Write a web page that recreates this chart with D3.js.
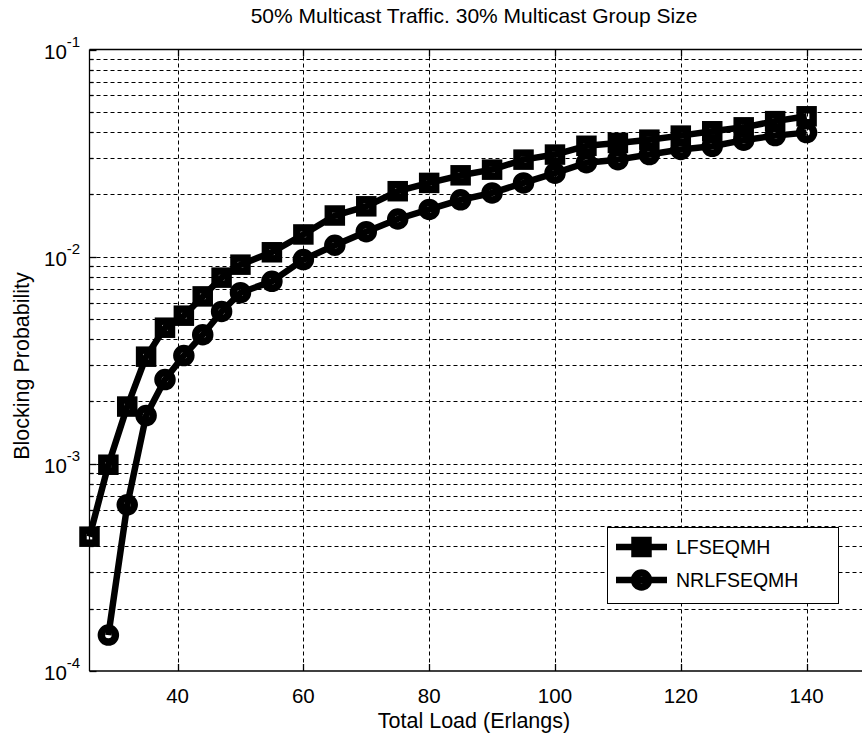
<!DOCTYPE html>
<html>
<head>
<meta charset="utf-8">
<script src="https://cdn.jsdelivr.net/npm/d3@7"></script>
<style>
  html, body { margin: 0; padding: 0; background: #fff; }
  svg { display: block; }
  text { font-family: "Liberation Sans", Arial, sans-serif; fill: #000; }
</style>
</head>
<body>
<svg id="chart" width="862" height="736"></svg>
<script>
// Offered load (Erlangs)
const loads = [26, 29, 32, 35, 38, 41, 44, 47, 50, 55, 60, 65, 70, 75, 80, 85, 90,
               95, 100, 105, 110, 115, 120, 125, 130, 135, 140];
// Blocking probability, LFSEQMH
const lfseqmh = [4.45e-4, 9.9e-4, 1.89e-3, 3.29e-3, 4.54e-3, 5.19e-3, 6.43e-3, 7.92e-3, 9.15e-3,
                 1.05e-2, 1.28e-2, 1.58e-2, 1.75e-2, 2.07e-2, 2.27e-2, 2.47e-2, 2.63e-2,
                 2.94e-2, 3.11e-2, 3.43e-2, 3.54e-2, 3.67e-2, 3.84e-2, 4.03e-2, 4.21e-2, 4.51e-2, 4.76e-2];
// Blocking probability, NRLFSEQMH (no value at the lowest load)
const nrlfseqmh = [null, 1.49e-4, 6.34e-4, 1.71e-3, 2.55e-3, 3.33e-3, 4.2e-3, 5.44e-3, 6.70e-3,
                   7.60e-3, 9.68e-3, 1.135e-2, 1.32e-2, 1.52e-2, 1.69e-2, 1.88e-2, 2.03e-2,
                   2.27e-2, 2.53e-2, 2.84e-2, 2.94e-2, 3.11e-2, 3.29e-2, 3.41e-2, 3.65e-2, 3.84e-2, 3.97e-2];
const seriesNames = ["LFSEQMH", "NRLFSEQMH"];
const xTicks = [40, 60, 80, 100, 120, 140];
const yDecades = [-4, -3, -2, -1];

const chartTitle = "50% Multicast Traffic. 30% Multicast Group Size";
const xLabel = "Total Load (Erlangs)";
const yLabel = "Blocking Probability";

(function () {
  const svg = d3.select("#chart");
  const pLeft = 89.5, pRight = 869.5, pTop = 49.5, pBottom = 671;

  const x = d3.scaleLinear().domain([26, 150]).range([pLeft, pRight]);
  const y = d3.scaleLog().domain([1e-4, 1e-1]).range([pBottom, pTop]);

  // Grid
  const grid = svg.append("g").attr("stroke", "#000").attr("stroke-width", 1)
    .attr("stroke-dasharray", "4,3").attr("fill", "none");
  xTicks.forEach(t => {
    const xx = Math.round(x(t)) + 0.5;
    grid.append("line").attr("x1", xx).attr("x2", xx).attr("y1", pTop).attr("y2", pBottom);
  });
  const yGridVals = [];
  yDecades.slice(0, 3).forEach(p => {
    for (let m = 1; m <= 9; m++) yGridVals.push(m * Math.pow(10, p));
  });
  yGridVals.forEach(v => {
    if (v <= 1e-4) return;
    const yy = Math.round(y(v)) + 0.5;
    grid.append("line").attr("x1", pLeft).attr("x2", 862).attr("y1", yy).attr("y2", yy);
  });

  // Axes box and inward ticks
  const ax = svg.append("g").attr("stroke", "#000").attr("stroke-width", 1.3).attr("fill", "none");
  ax.append("line").attr("x1", pLeft).attr("x2", pLeft).attr("y1", pTop).attr("y2", pBottom);
  ax.append("line").attr("x1", pLeft).attr("x2", 862).attr("y1", pBottom).attr("y2", pBottom);
  ax.append("line").attr("x1", pLeft).attr("x2", 862).attr("y1", pTop).attr("y2", pTop);
  xTicks.forEach(t => {
    const xx = Math.round(x(t)) + 0.5;
    ax.append("line").attr("x1", xx).attr("x2", xx).attr("y1", pBottom).attr("y2", pBottom - 7);
    ax.append("line").attr("x1", xx).attr("x2", xx).attr("y1", pTop).attr("y2", pTop + 7);
  });
  yGridVals.concat([1e-1]).forEach(v => {
    const yy = Math.round(y(v)) + 0.5;
    const major = Math.abs(Math.log10(v) - Math.round(Math.log10(v))) < 1e-9;
    ax.append("line").attr("x1", pLeft).attr("x2", pLeft + (major ? 7 : 4)).attr("y1", yy).attr("y2", yy);
  });

  // Tick labels
  const xAxisLabels = svg.append("g").attr("font-size", 20.5).attr("text-anchor", "middle");
  xTicks.forEach(t => {
    xAxisLabels.append("text").attr("x", x(t)).attr("y", 703).text(t);
  });
  const yAxisLabels = svg.append("g").attr("font-size", 20.5);
  yDecades.forEach(p => {
    const yy = y(Math.pow(10, p));
    const t = yAxisLabels.append("text").attr("x", 44).attr("y", yy + 9);
    t.append("tspan").text("10");
    t.append("tspan").attr("font-size", 15).attr("dy", -12).text(String(p));
  });

  // Titles
  svg.append("text").attr("x", 474).attr("y", 23).attr("text-anchor", "middle")
    .attr("font-size", 21).text(chartTitle);
  svg.append("text").attr("x", 474).attr("y", 728).attr("text-anchor", "middle")
    .attr("font-size", 21.5).text(xLabel);
  svg.append("text").attr("transform", "translate(29,366) rotate(-90)").attr("text-anchor", "middle")
    .attr("font-size", 21.5).text(yLabel);

  // Series
  const line = d3.line().defined(d => d.v != null).x(d => x(d.x)).y(d => y(d.v));
  const series = [lfseqmh, nrlfseqmh].map((vals, i) => ({
    name: seriesNames[i],
    shape: i === 0 ? "square" : "circle",
    pts: loads.map((l, j) => ({ x: l, v: vals[j] }))
  }));

  function drawMarker(g, shape, cx, cy) {
    if (shape === "square") {
      g.append("rect").attr("x", cx - 6.5).attr("y", cy - 6.5).attr("width", 13).attr("height", 13)
        .attr("fill", "none").attr("stroke", "#000").attr("stroke-width", 7.5);
    } else {
      g.append("circle").attr("cx", cx).attr("cy", cy).attr("r", 7)
        .attr("fill", "none").attr("stroke", "#000").attr("stroke-width", 7.5);
    }
  }

  series.forEach(s => {
    const g = svg.append("g");
    g.append("path").attr("d", line(s.pts)).attr("fill", "none").attr("stroke", "#000")
      .attr("stroke-width", 6.5).attr("stroke-linejoin", "round");
    s.pts.filter(d => d.v != null).forEach(d => drawMarker(g, s.shape, x(d.x), y(d.v)));
  });

  // Legend
  const lg = svg.append("g");
  lg.append("rect").attr("x", 607.5).attr("y", 527.5).attr("width", 231).attr("height", 76)
    .attr("fill", "#fff").attr("stroke", "#000").attr("stroke-width", 1);
  series.forEach((s, i) => {
    const yy = 547 + i * 33;
    lg.append("line").attr("x1", 616).attr("x2", 667).attr("y1", yy).attr("y2", yy)
      .attr("stroke", "#000").attr("stroke-width", 6.5);
    drawMarker(lg, s.shape, 641.5, yy);
    lg.append("text").attr("x", 676).attr("y", yy + 7).attr("font-size", 19.5).text(s.name);
  });
})();
</script>
</body>
</html>
